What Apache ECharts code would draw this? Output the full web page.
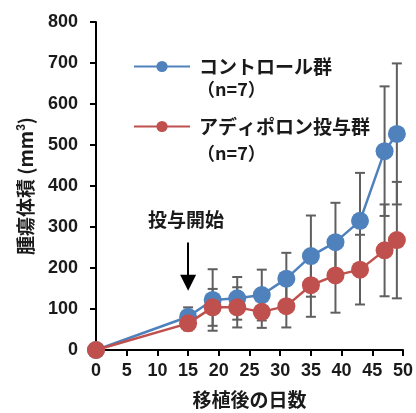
<!DOCTYPE html>
<html>
<head>
<meta charset="utf-8">
<script src="https://cdn.jsdelivr.net/npm/echarts@6/dist/echarts.min.js"></script>
<style>html,body{margin:0;padding:0;background:#fff}#c{width:416px;height:413px}</style>
</head>
<body>
<div id="c"></div>
<script>
// ---- data ----
var days = [0, 15, 19, 23, 27, 31, 35, 39, 43, 47, 49];
var controlName = 'コントロール群';
var adipoName = 'アディポロン投与群';
var nLabel = '（n=7）';
var control = [0, 81, 122, 126, 134, 174, 229, 263, 315, 485, 527];
var controlErr = [0, 23, 75, 52, 62, 63, 99, 96, 117, 158, 172];
var adipo = [0, 65, 104, 104, 93, 107, 158, 182, 196, 243, 268];
var adipoErr = [0, 17, 45, 49, 39, 52, 77, 91, 85, 112, 142];
var xTicks = [0, 5, 10, 15, 20, 25, 30, 35, 40, 45, 50];
var yTicks = [0, 100, 200, 300, 400, 500, 600, 700, 800];
var startDay = 15;
var startLabel = '投与開始';
var xTitle = '移植後の日数';

var BLUE = '#4F81BD', RED = '#C0504D', GRAY = '#5f5f5f';
var NUM_FONT = '"Liberation Sans", Arial, sans-serif';
var CJK_FONT = '"Noto Sans CJK JP", "Liberation Sans", sans-serif';

function pairs(vals) { return days.map(function (d, i) { return [d, vals[i]]; }); }
function errData(vals, errs) {
  return days.map(function (d, i) { return [d, vals[i] - errs[i], vals[i] + errs[i]]; });
}
function renderErr(params, api) {
  var x = api.value(0);
  var lo = api.coord([x, api.value(1)]);
  var hi = api.coord([x, api.value(2)]);
  var w = 5;
  var st = { stroke: GRAY, lineWidth: 2 };
  return {
    type: 'group',
    children: [
      { type: 'line', shape: { x1: lo[0], y1: lo[1], x2: hi[0], y2: hi[1] }, style: st },
      { type: 'line', shape: { x1: hi[0] - w, y1: hi[1], x2: hi[0] + w, y2: hi[1] }, style: st },
      { type: 'line', shape: { x1: lo[0] - w, y1: lo[1], x2: lo[0] + w, y2: lo[1] }, style: st }
    ]
  };
}

var chart = echarts.init(document.getElementById('c'), null, { renderer: 'canvas' });
chart.setOption({
  animation: false,
  grid: { left: 96, right: 13, top: 22, bottom: 63, containLabel: false, outerBoundsMode: 'none' },
  legend: {
    data: [controlName, adipoName],
    orient: 'vertical',
    left: 128, top: 52,
    itemWidth: 56, itemHeight: 14, itemGap: 41,
    textStyle: { fontFamily: CJK_FONT, fontSize: 19, fontWeight: 'bold', color: '#1a1a1a', padding: [0, 0, 0, 4] },
    selectedMode: false
  },
  xAxis: {
    type: 'value', min: 0, max: 50, interval: 5,
    name: xTitle, nameLocation: 'middle', nameGap: 40,
    nameTextStyle: { fontFamily: CJK_FONT, fontSize: 19, fontWeight: 'bold', color: '#1a1a1a' },
    axisLine: { show: true, onZero: false, lineStyle: { color: '#000', width: 2 } },
    axisTick: { show: true, inside: false, length: 6, lineStyle: { color: '#000', width: 2 } },
    axisLabel: { fontFamily: NUM_FONT, fontSize: 18, fontWeight: 'bold', color: '#1a1a1a', margin: 12,
      customValues: xTicks },
    splitLine: { show: false }
  },
  yAxis: {
    type: 'value', min: 0, max: 800, interval: 100,
    name: '{a|腫瘍体積 (mm}{s|3}{a|)}', nameLocation: 'middle', nameGap: 60, nameRotate: 90,
    nameTextStyle: {
      rich: {
        a: { fontFamily: CJK_FONT, fontSize: 19, fontWeight: 'bold', color: '#1a1a1a' },
        s: { fontFamily: NUM_FONT, fontSize: 12, fontWeight: 'bold', color: '#1a1a1a', verticalAlign: 'top', padding: [0, 0, 8, 0] }
      }
    },
    axisLine: { show: true, lineStyle: { color: '#000', width: 2 } },
    axisTick: { show: true, inside: false, length: 6, lineStyle: { color: '#000', width: 2 } },
    axisLabel: { fontFamily: NUM_FONT, fontSize: 18, fontWeight: 'bold', color: '#1a1a1a', margin: 18 },
    splitLine: { show: false }
  },
  series: [
    { type: 'custom', name: 'err1', data: errData(control, controlErr), renderItem: renderErr, z: 1, silent: true },
    { type: 'custom', name: 'err2', data: errData(adipo, adipoErr), renderItem: renderErr, z: 1, silent: true },
    {
      type: 'line', name: controlName, data: pairs(control), z: 3,
      symbol: 'circle', symbolSize: 18,
      itemStyle: { color: BLUE }, lineStyle: { color: BLUE, width: 2.5 },
      markLine: {
        silent: true, symbol: ['none', 'triangle'], symbolSize: [16, 16],
        lineStyle: { color: '#000', width: 2, type: 'solid' }, label: { show: false },
        data: [[{ coord: [startDay, 262] }, { coord: [startDay, 164] }]]
      }
    },
    {
      type: 'line', name: adipoName, data: pairs(adipo), z: 4,
      symbol: 'circle', symbolSize: 18,
      itemStyle: { color: RED }, lineStyle: { color: RED, width: 2.5 }
    }
  ],
  graphic: [
    { type: 'text', left: 197, top: 80, style: { text: nLabel, font: 'bold 18px ' + CJK_FONT, fill: '#1a1a1a' } },
    { type: 'text', left: 197, top: 144, style: { text: nLabel, font: 'bold 18px ' + CJK_FONT, fill: '#1a1a1a' } },
    { type: 'text', x: 186, y: 220, style: { text: startLabel, font: 'bold 19px ' + CJK_FONT, fill: '#1a1a1a', align: 'center', verticalAlign: 'middle' } }
  ]
});
</script>
</body>
</html>
